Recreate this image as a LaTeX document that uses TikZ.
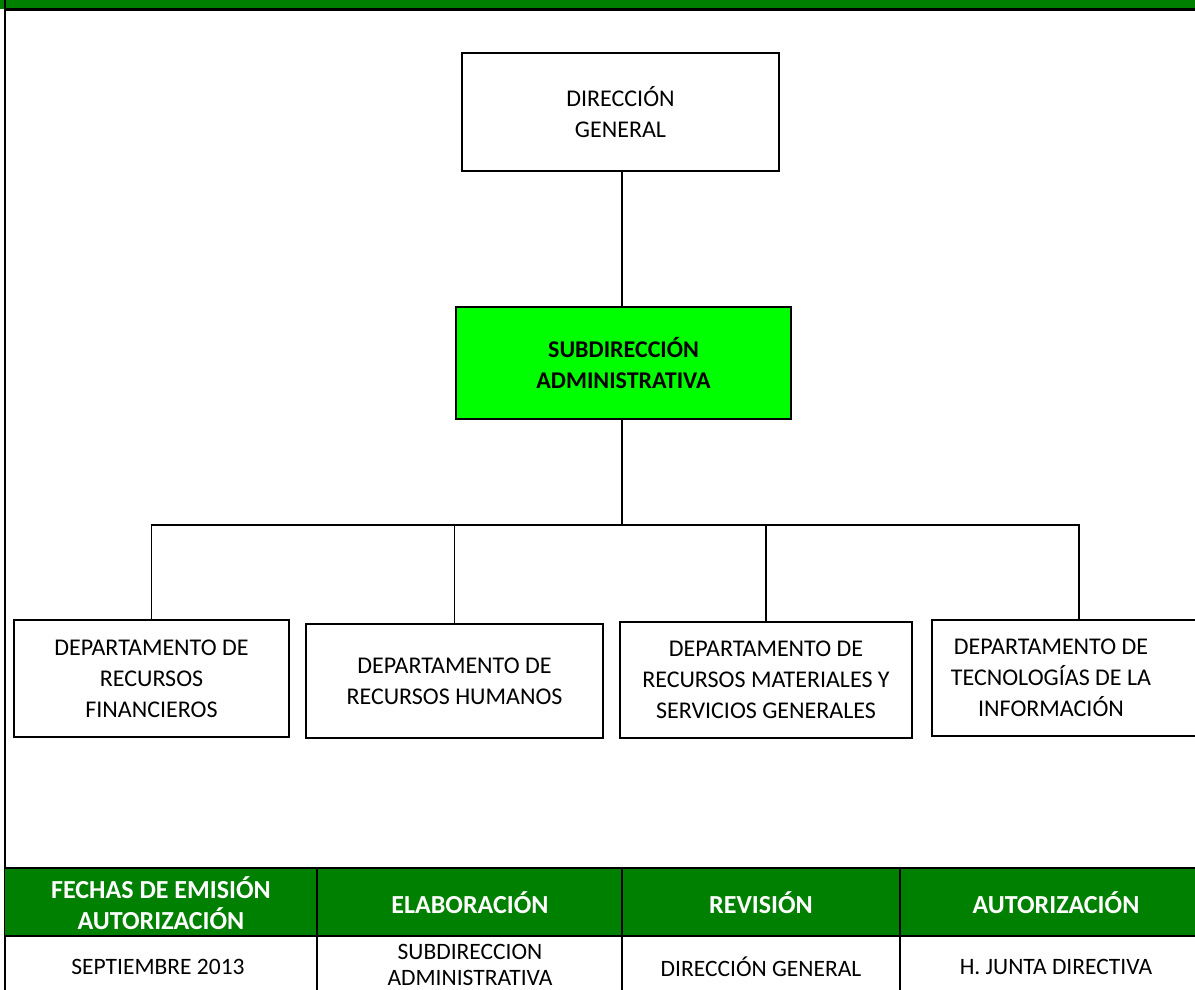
\documentclass[tikz,border=0pt]{standalone}
\usepackage{fontspec}
\setmainfont{Carlito}
\begin{document}
\begin{tikzpicture}[x=1pt,y=-1pt,
  orgbox/.style={draw=black,line width=1.6pt,align=center,inner sep=0pt,
    font=\fontsize{24}{31}\selectfont},
  link/.style={draw=black,line width=1.6pt},
  rule/.style={draw=black,line width=2.6pt},
  head/.style={text=white,align=center,font=\fontsize{26}{31}\selectfont\bfseries},
  cell/.style={text=black,align=center,font=\fontsize{23.5}{26}\selectfont}]
\definecolor{darkgreen}{RGB}{0,128,0}
\definecolor{brightgreen}{RGB}{0,255,0}
\useasboundingbox (0,0) rectangle (1195,989);
\begin{scope}
\clip (0,0) rectangle (1195,989);

% top band
\fill[darkgreen] (0,0) rectangle (1195,8.5);
\draw[rule] (5,9.5) -- (1200,9.5);
\draw[rule] (5,0) -- (5,995);

% organisation chart
\node[orgbox,minimum width=317,minimum height=118] (dg) at (620.5,112)
  {DIRECCIÓN\\GENERAL};
\node[orgbox,fill=brightgreen,minimum width=335,minimum height=112,
  font=\fontsize{24}{31}\selectfont\bfseries] (sa) at (623.5,363)
  {SUBDIRECCIÓN\\ADMINISTRATIVA};
\node[orgbox,minimum width=275,minimum height=117] (d1) at (151.5,678.5)
  {DEPARTAMENTO DE\\RECURSOS\\FINANCIEROS};
\node[orgbox,minimum width=297,minimum height=114] (d2) at (454.5,681)
  {DEPARTAMENTO DE\\RECURSOS HUMANOS};
\node[orgbox,minimum width=292,minimum height=116] (d3) at (766,680)
  {DEPARTAMENTO DE\\RECURSOS MATERIALES Y\\SERVICIOS GENERALES};
\node[orgbox,minimum width=300,minimum height=116] (d4) at (1082,678) {};
\node[align=center,inner sep=0pt,font=\fontsize{24}{31}\selectfont] (t4) at (1051,678)
  {DEPARTAMENTO DE\\TECNOLOGÍAS DE LA\\INFORMACIÓN};

\coordinate (bus) at (622,525);
\coordinate (busR) at (1079,525);
\draw[link] (dg.south -| bus) -- (sa.north -| bus);
\draw[link] (sa.south -| bus) -- (bus);
\draw[link] (d1.north) -- (d1.north |- bus) -- (busR) -- (busR |- d4.north);
\draw[link] (d2.north) -- (d2.north |- bus);
\draw[link] (d3.north) -- (d3.north |- bus);

% approval table
\fill[darkgreen] (5,868) rectangle (1200,936);
\draw[rule] (5,868) -- (1200,868);
\draw[rule] (5,936) -- (1200,936);
\draw[rule] (317,868) -- (317,995);
\draw[rule] (622,868) -- (622,995);
\draw[rule] (900,868) -- (900,995);

\node[head] (h1) at (161,903) {FECHAS DE EMISIÓN\\AUTORIZACIÓN};
\node[head] (h2) at (470,903) {ELABORACIÓN};
\node[head] (h3) at (761,903) {REVISIÓN};
\node[head] (h4) at (1056,903) {AUTORIZACIÓN};

\node[cell] (c1) at (158,967) {SEPTIEMBRE 2013};
\node[cell] (c2) at (470,965) {SUBDIRECCION\\ADMINISTRATIVA};
\node[cell] (c3) at (761,967) {DIRECCIÓN GENERAL};
\node[cell] (c4) at (1056,967) {H. JUNTA DIRECTIVA};
\end{scope}
\end{tikzpicture}
\end{document}
